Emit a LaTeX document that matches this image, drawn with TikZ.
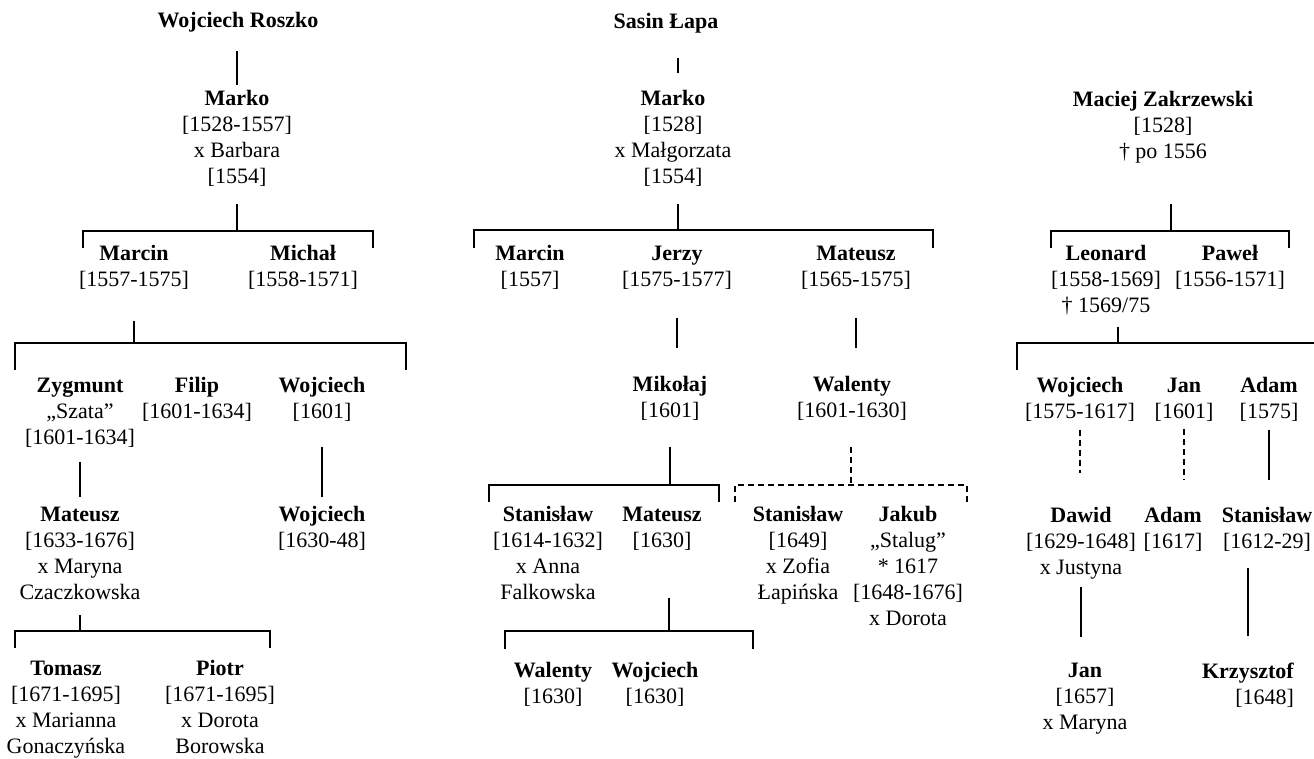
\documentclass[tikz,border=0pt]{standalone}
\usepackage{fontspec}
\setmainfont{Liberation Serif}
\usepackage{tikz}

\begin{document}
\begin{tikzpicture}[x=1pt,y=-1pt,line width=1.4pt,
	person/.style={anchor=north,align=center,inner sep=0pt,font=\fontsize{22}{26}\selectfont},
	right person/.style={person,align=right},
	unsure/.style={dash pattern=on 6pt off 4pt}]
	\useasboundingbox (0,0) rectangle (1314,758);
	%%%nodes
	%Roszko line
	\node[person] at (238,12) (Roszko){\textbf{Wojciech Roszko}};
	\node[person] at (237,90) (MarkoR){\textbf{Marko}\\{}[1528-1557]\\x Barbara\\{}[1554]};
	\node[person] at (134,245) (MarcinR){\textbf{Marcin}\\{}[1557-1575]};
	\node[person] at (303,245) (MichalR){\textbf{Michał}\\{}[1558-1571]};
	\node[person] at (80,377) (Zygmunt){\textbf{Zygmunt}\\„Szata”\\{}[1601-1634]};
	\node[person] at (197,377) (Filip){\textbf{Filip}\\{}[1601-1634]};
	\node[person] at (322,377) (WojciechR1){\textbf{Wojciech}\\{}[1601]};
	\node[person] at (80,506) (MateuszR){\textbf{Mateusz}\\{}[1633-1676]\\x Maryna\\Czaczkowska};
	\node[person] at (322,506) (WojciechR2){\textbf{Wojciech}\\{}[1630-48]};
	\node[person] at (66,660) (Tomasz){\textbf{Tomasz}\\{}[1671-1695]\\x Marianna\\Gonaczyńska};
	\node[person] at (220,660) (Piotr){\textbf{Piotr}\\{}[1671-1695]\\x Dorota\\Borowska};
	%Lapa line
	\node[person] at (666,13) (Lapa){\textbf{Sasin Łapa}};
	\node[person] at (673,90) (MarkoL){\textbf{Marko}\\{}[1528]\\x Małgorzata\\{}[1554]};
	\node[person] at (530,245) (MarcinL){\textbf{Marcin}\\{}[1557]};
	\node[person] at (677,245) (Jerzy){\textbf{Jerzy}\\{}[1575-1577]};
	\node[person] at (856,245) (MateuszL1){\textbf{Mateusz}\\{}[1565-1575]};
	\node[person] at (670,376) (Mikolaj){\textbf{Mikołaj}\\{}[1601]};
	\node[person] at (852,376) (WalentyL1){\textbf{Walenty}\\{}[1601-1630]};
	\node[person] at (548,506) (StanislawL1){\textbf{Stanisław}\\{}[1614-1632]\\x Anna\\Falkowska};
	\node[person] at (662,506) (MateuszL2){\textbf{Mateusz}\\{}[1630]};
	\node[person] at (798,506) (StanislawL2){\textbf{Stanisław}\\{}[1649]\\x Zofia\\Łapińska};
	\node[person] at (908,506) (Jakub){\textbf{Jakub}\\„Stalug”\\* 1617\\{}[1648-1676]\\x Dorota};
	\node[person] at (553,662) (WalentyL2){\textbf{Walenty}\\{}[1630]};
	\node[person] at (655,662) (WojciechL){\textbf{Wojciech}\\{}[1630]};
	%Zakrzewski line
	\node[person] at (1163,91) (Maciej){\textbf{Maciej Zakrzewski}\\{}[1528]\\† po 1556};
	\node[person] at (1106,245) (Leonard){\textbf{Leonard}\\{}[1558-1569]\\† 1569/75};
	\node[person] at (1230,245) (Pawel){\textbf{Paweł}\\{}[1556-1571]};
	\node[person] at (1080,377) (WojciechZ){\textbf{Wojciech}\\{}[1575-1617]};
	\node[person] at (1184,377) (JanZ1){\textbf{Jan}\\{}[1601]};
	\node[person] at (1269,377) (AdamZ1){\textbf{Adam}\\{}[1575]};
	\node[person] at (1081,507) (Dawid){\textbf{Dawid}\\{}[1629-1648]\\x Justyna};
	\node[person] at (1173,507) (AdamZ2){\textbf{Adam}\\{}[1617]};
	\node[person] at (1267,507) (StanislawZ){\textbf{Stanisław}\\{}[1612-29]};
	\node[person] at (1085,662) (JanZ2){\textbf{Jan}\\{}[1657]\\x Maryna};
	\node[right person] at (1248,662) (Krzysztof){\textbf{Krzysztof}\\{}[1648]};
	%%%brackets
	\coordinate (jR1) at (237,231); \coordinate (lR1) at (83,248); \coordinate (rR1) at (373,248);
	\coordinate (jR2) at (134,343); \coordinate (lR2) at (15,370); \coordinate (rR2) at (406,370);
	\coordinate (jR3) at (80,631); \coordinate (lR3) at (15,648); \coordinate (rR3) at (270,648);
	\coordinate (jL1) at (678,230); \coordinate (lL1) at (474,248); \coordinate (rL1) at (933,248);
	\coordinate (jL2) at (670,485); \coordinate (lL2) at (489,502); \coordinate (rL2) at (719,502);
	\coordinate (jL3) at (851,485); \coordinate (lL3) at (735,502); \coordinate (rL3) at (967,502);
	\coordinate (jL4) at (669,631); \coordinate (lL4) at (505,649); \coordinate (rL4) at (753,649);
	\coordinate (jZ1) at (1171,231); \coordinate (lZ1) at (1051,248); \coordinate (rZ1) at (1289,248);
	\coordinate (jZ2) at (1118,343); \coordinate (lZ2) at (1017,370); \coordinate (rZ2) at (1314,343);
	%%%links
	%Roszko line
	\draw[shorten <=18,shorten >=5] (Roszko.south -| MarkoR) -- (MarkoR.north);
	\draw[shorten <=16] (MarkoR.south) -- (jR1);
	\draw (lR1) |- (jR1) -| (rR1);
	\draw[shorten <=30] (MarcinR.south) -- (jR2);
	\draw (lR2) |- (jR2) -| (rR2);
	\draw[shorten <=14,shorten >=9] (Zygmunt.south) -- (MateuszR.north);
	\draw[shorten <=24,shorten >=9] (WojciechR1.south) -- (WojciechR2.north);
	\draw[shorten <=15] (MateuszR.south) -- (jR3);
	\draw (lR3) |- (jR3) -| (rR3);
	%Lapa line
	\draw[shorten <=24,shorten >=17] (Lapa.south -| jL1) -- (MarkoL.north -| jL1);
	\draw[shorten <=16] (MarkoL.south -| jL1) -- (jL1);
	\draw (lL1) |- (jL1) -| (rL1);
	\draw[shorten <=28,shorten >=28] (Jerzy.south) -- (Jerzy.south |- Mikolaj.north);
	\draw[shorten <=28,shorten >=28] (MateuszL1.south) -- (MateuszL1.south |- WalentyL1.north);
	\draw[shorten <=25] (Mikolaj.south) -- (jL2);
	\draw (lL2) |- (jL2) -| (rL2);
	\draw[unsure,shorten <=25] (WalentyL1.south -| jL3) -- (jL3);
	\draw[unsure] (lL3) |- (jL3) -| (rL3);
	\draw[shorten <=47] (MateuszL2.south -| jL4) -- (jL4);
	\draw (lL4) |- (jL4) -| (rL4);
	%Zakrzewski line
	\draw[shorten <=40] (Maciej.south -| jZ1) -- (jZ1);
	\draw (lZ1) |- (jZ1) -| (rZ1);
	\draw[shorten <=11] (Leonard.south -| jZ2) -- (jZ2);
	\draw (lZ2) |- (jZ2) -- (rZ2);
	\draw[unsure,shorten <=7,shorten >=34] (WojciechZ.south) -- (WojciechZ.south |- Dawid.north);
	\draw[unsure,shorten <=7,shorten >=27] (JanZ1.south) -- (JanZ1.south |- AdamZ2.north);
	\draw[shorten <=7,shorten >=27] (AdamZ1.south) -- (AdamZ1.south |- StanislawZ.north);
	\draw[shorten <=7,shorten >=25] (Dawid.south) -- (Dawid.south |- JanZ2.north);
	\draw[shorten <=15,shorten >=26] (StanislawZ.south -| Krzysztof.north) -- (Krzysztof.north);
\end{tikzpicture}
\end{document}
